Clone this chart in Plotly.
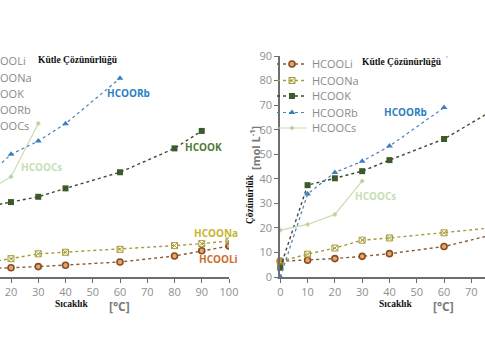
import plotly.graph_objects as go

# ---------------- data ----------------
temps_li_na = [0, 10, 20, 30, 40, 60, 80, 90, 100]
temps_k = [0, 10, 20, 30, 40, 60, 80, 90]
temps_rb = [0, 10, 20, 30, 40, 60]
temps_cs = [0, 10, 20, 30]

# mass solubility (g / 100 g water) - left panel
li_mass = [33, 36, 42, 47, 53, 68, 95, 119, 140]
na_mass = [44, 62, 83, 105, 112, 125, 142, 151, 163]
k_mass = [32, 315, 339, 363, 401, 474, 582, 661]
rb_mass = [0, 441, 555, 615, 694, 899]
cs_mass = [340, 381, 454, 695]

# molar solubility - right panel
li_mol = [6.4, 6.8, 7.5, 8.4, 9.5, 12.4, 17.8, 22.9, 26.9]
na_mol = [6.4, 9.3, 11.8, 15.0, 15.9, 18.0, 20.3, 22.2, 24.0]
k_mol = [3.8, 37.4, 40.2, 43.1, 47.6, 56.2, 69.2, 78.6]
rb_mol = [0, 33.8, 42.6, 47.1, 53.3, 69.0]
cs_mol = [19.1, 21.4, 25.5, 39.1]

names = ["HCOOLi", "HCOONa", "HCOOK", "HCOORb", "HCOOCs"]
x_ticks_left = [10, 20, 30, 40, 50, 60, 70, 80, 90, 100]
x_ticks_right = [0, 10, 20, 30, 40, 50, 60, 70, 80]
y_ticks_right = [0, 10, 20, 30, 40, 50, 60, 70, 80, 90]

# ---------------- styles ----------------
W, H = 485, 360
def px(x): return x / W
def py(y): return 1 - y / H

styles = {
    "HCOOLi": dict(line=dict(color="#8a5a32", width=1.4, dash="dot"),
                   marker=dict(symbol="circle", size=6, color="#e0a870",
                               line=dict(color="#8b4a1f", width=1.6))),
    "HCOONa": dict(line=dict(color="#a89a3c", width=1.4, dash="dot"),
                   marker=dict(symbol="square-x-open", size=6, color="#a99b3a",
                               line=dict(width=1))),
    "HCOOK": dict(line=dict(color="#3e4a30", width=1.4, dash="dot"),
                  marker=dict(symbol="square", size=6, color="#3c5a2a")),
    "HCOORb": dict(line=dict(color="#4a7fb8", width=1.2, dash="dot"),
                   marker=dict(symbol="triangle-up", size=6, color="#3d7ec0")),
    "HCOOCs": dict(line=dict(color="#c8dcb4", width=1.2),
                   marker=dict(symbol="diamond", size=4, color="#b9d6a0")),
}
# interleave entries over two legends so rows are ~16 px apart
legend_of = {"HCOOLi": "legend", "HCOONa": "legend2", "HCOOK": "legend",
             "HCOORb": "legend2", "HCOOCs": "legend"}

left_sets = [(temps_li_na, li_mass), (temps_li_na, na_mass), (temps_k, k_mass),
             (temps_rb, rb_mass), (temps_cs, cs_mass)]
right_sets = [(temps_li_na, li_mol), (temps_li_na, na_mol), (temps_k, k_mol),
              (temps_rb, rb_mol), (temps_cs, cs_mol)]

fig = go.Figure()
for name, (xs, ys) in zip(names, left_sets):
    fig.add_trace(go.Scatter(x=xs, y=ys, mode="lines+markers", name=name,
                             xaxis="x", yaxis="y", showlegend=False,
                             **styles[name]))
for name, (xs, ys) in zip(names, right_sets):
    fig.add_trace(go.Scatter(x=xs, y=ys, mode="lines+markers", name=name,
                             xaxis="x2", yaxis="y2", showlegend=True,
                             legend=legend_of[name], legendgroup=name,
                             cliponaxis=False, **styles[name]))

axis_col = "#6e6e6e"
tick_font = dict(family="Open Sans", size=11, color="#8f8f8f")
ydom = [py(277), py(56)]
leg_font = dict(family="Open Sans", size=11, color="#8a8a8a")
LEG_X = 272

fig.update_layout(
    template=None,
    width=W, height=H, margin=dict(l=0, r=0, t=0, b=0, autoexpand=False),
    paper_bgcolor="white", plot_bgcolor="white",
    xaxis=dict(domain=[0, px(229)], range=[15.96, 100], tickvals=x_ticks_left,
               showgrid=False, zeroline=False, showline=True, linecolor=axis_col,
               linewidth=2, ticks="outside", ticklen=4, tickcolor=axis_col,
               tickfont=tick_font, anchor="y", automargin=False),
    yaxis=dict(domain=ydom, range=[0, 1000], visible=False, anchor="x",
               automargin=False),
    xaxis2=dict(domain=[px(280.3), 1], range=[0, 75], tickvals=x_ticks_right,
                showgrid=False, zeroline=False, showline=True, linecolor=axis_col,
                linewidth=2, ticks="outside", ticklen=4, tickcolor=axis_col,
                tickfont=tick_font, anchor="y2", automargin=False),
    yaxis2=dict(domain=ydom, range=[0, 90], tickvals=y_ticks_right,
                showgrid=False, zeroline=False, showline=True, linecolor=axis_col,
                linewidth=2, ticks="outside", ticklen=4, tickcolor=axis_col,
                tickfont=tick_font, anchor="x2", automargin=False),
    legend=dict(x=px(LEG_X), y=py(49.5), xanchor="left", yanchor="top",
                bgcolor="rgba(0,0,0,0)", itemwidth=30, tracegroupgap=13.0,
                borderwidth=0, font=leg_font),
    legend2=dict(x=px(LEG_X), y=py(66), xanchor="left", yanchor="top",
                 bgcolor="rgba(0,0,0,0)", itemwidth=30, tracegroupgap=13.0,
                 borderwidth=0, font=leg_font),
)

ann = []
def add(text, x, y, size, color, family="Open Sans", bold=True, angle=0,
        xanchor="center"):
    t = f"<b>{text}</b>" if bold else text
    ann.append(dict(text=t, x=px(x), y=py(y), xref="paper", yref="paper",
                    showarrow=False, xanchor=xanchor, yanchor="middle",
                    textangle=angle,
                    font=dict(family=family, size=size, color=color)))

serif = "Liberation Serif"
# titles
add("Kütle Çözünürlüğü", 77.5, 60, 9.5, "#111111", serif)
add("Kütle Çözünürlüğü", 401.5, 61.7, 9.5, "#111111", serif)
add("'", 447, 58, 8, "#777777", bold=False)
# series labels
add("HCOORb", 128, 93, 10, "#2e7fbf")
add("HCOOCs", 41, 167, 10, "#c5dfb4")
add("HCOOK", 203, 147, 10, "#4f7a35")
add("HCOONa", 216, 233, 10, "#c8b42e")
add("HCOOLi", 218, 259, 10, "#c9702c")
add("HCOORb", 405, 112, 10, "#2e7fbf")
add("HCOOCs", 375.5, 196, 10, "#c5dfb4")
# axis titles
add("Sıcaklık", 71, 304, 9.5, "#111111", serif)
add("[°C]", 119, 306, 12, "#7a7a7a")
add("Sıcaklık", 395, 304, 9.5, "#111111", serif)
add("[°C]", 443, 306, 12, "#7a7a7a")
add("Çözünürlük", 250, 199, 9.5, "#111111", serif, angle=-90)
add("[mol L<sup>-1</sup>]", 255, 148, 11, "#7a7a7a", angle=-90)
# left legend (cut by the image edge)
for name, yy in zip(names, [60.7, 77, 93.3, 109.7, 126]):
    add(name, -17, yy, 11, "#8a8a8a", bold=False, xanchor="left")

fig.update_layout(annotations=ann)
fig.write_html("out.html",
               config={"displayModeBar": False},
               post_script="document.body.style.margin='0';")
